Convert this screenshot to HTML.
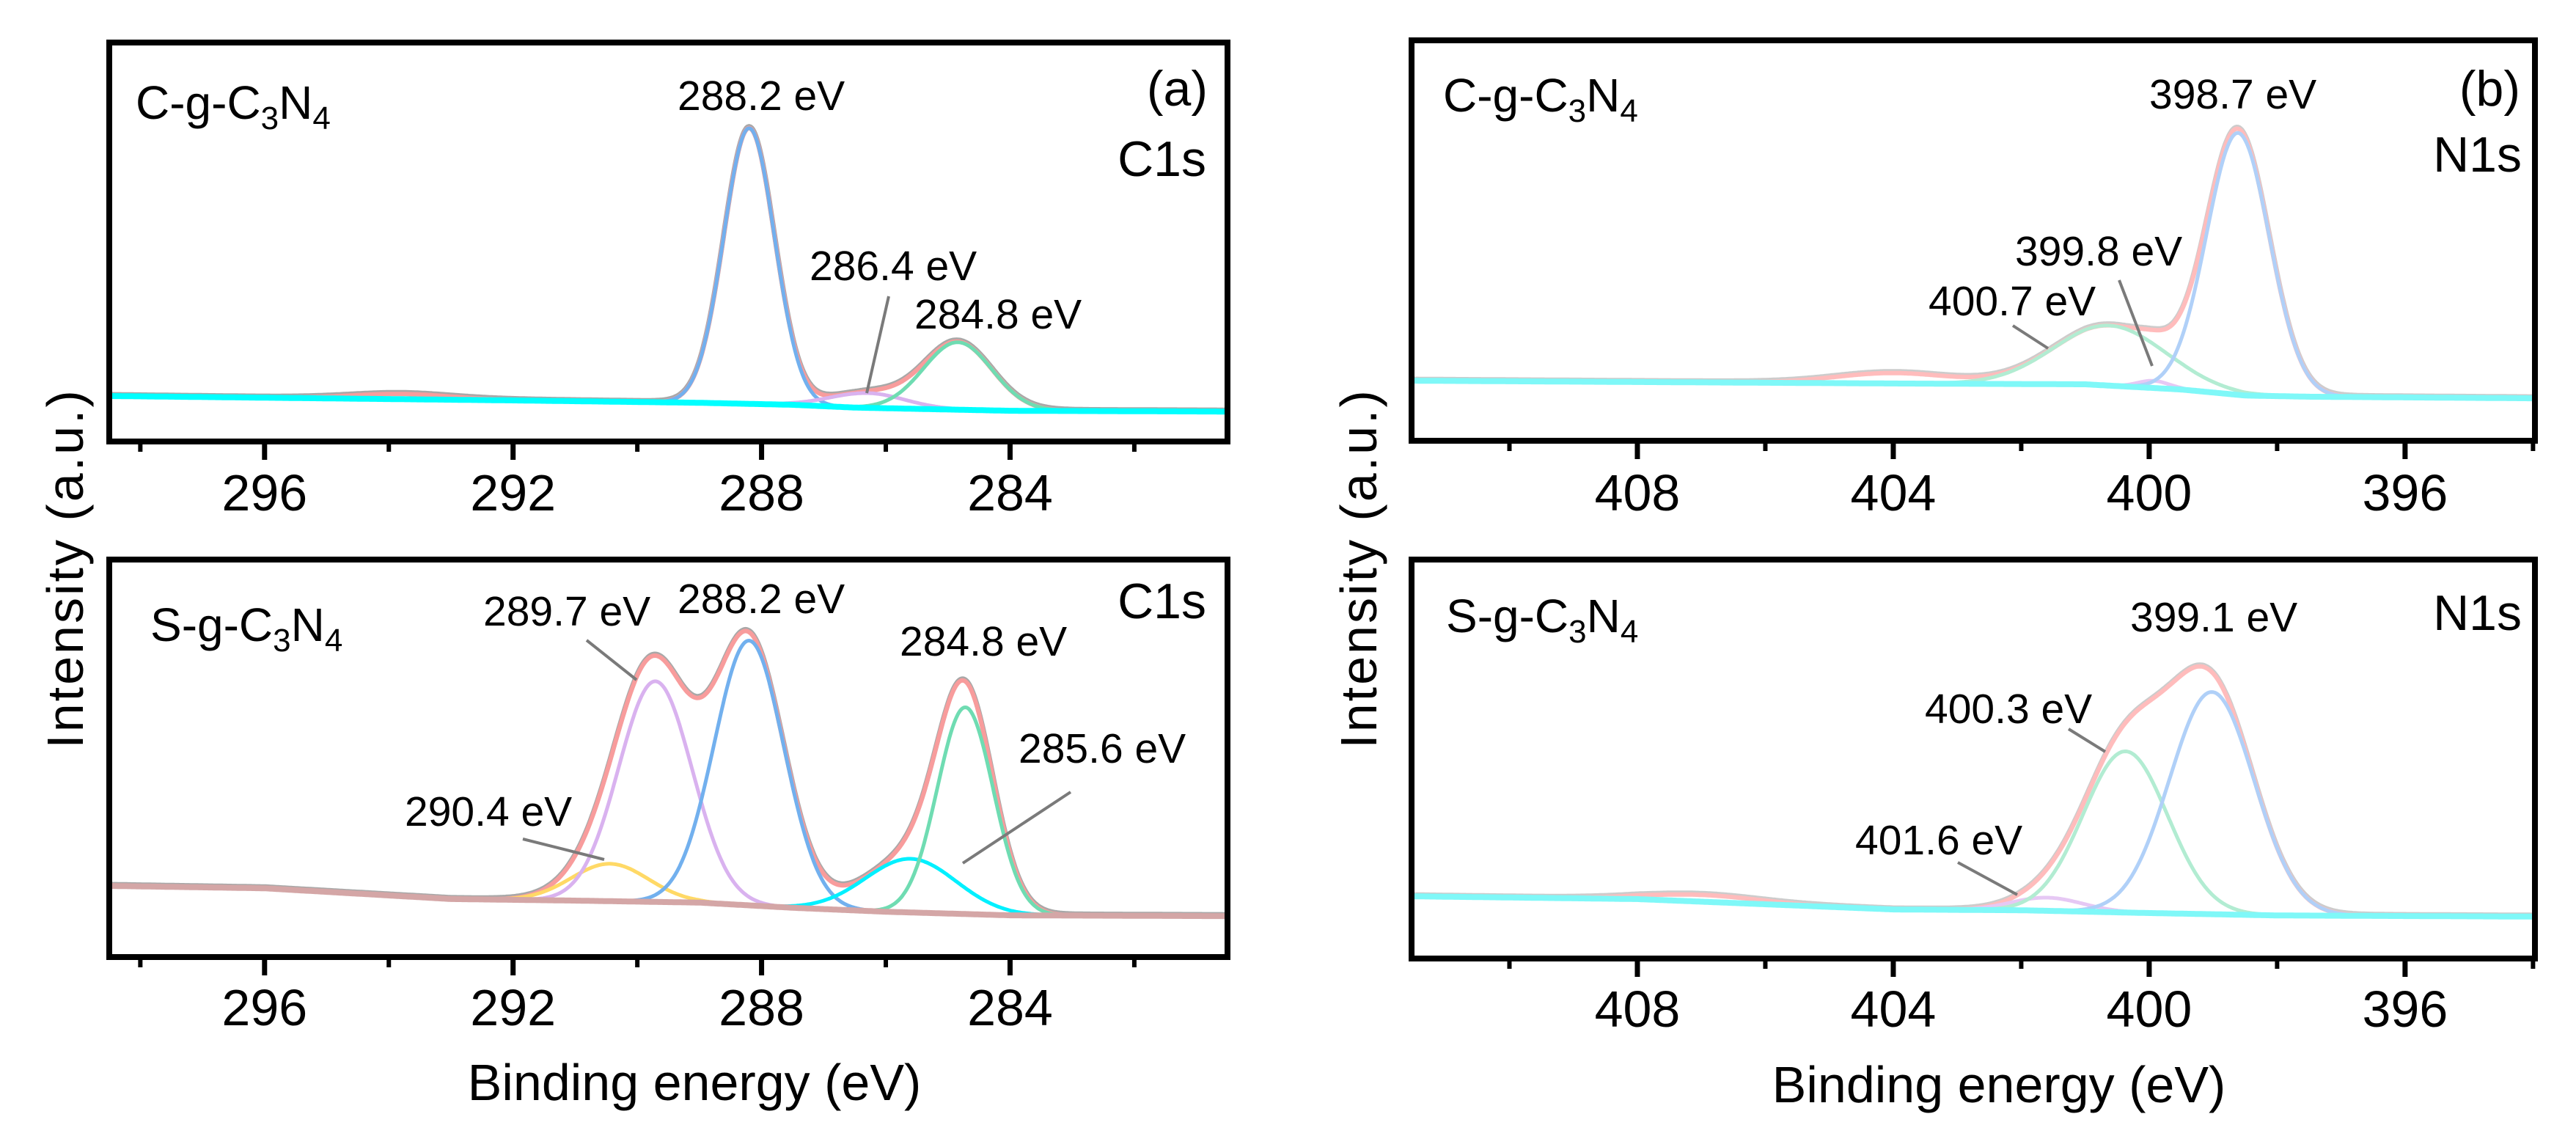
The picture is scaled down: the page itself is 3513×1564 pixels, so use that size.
<!DOCTYPE html>
<html><head><meta charset="utf-8">
<style>
html,body{margin:0;padding:0;background:#fff;}
svg{display:block;}
text{font-family:"Liberation Sans",Arial,sans-serif;fill:#000;}
</style></head>
<body>
<svg id="fig" width="3513" height="1564" viewBox="0 0 3513 1564" xmlns="http://www.w3.org/2000/svg">
<rect x="0" y="0" width="3513" height="1564" fill="#fff"/>
<g id="layer"></g>
</svg>
<script>
// ===== Panel (a) top: C-g-C3N4 C1s =====
const aTopBgE = [298.5, 292, 289, 287.5, 286.5, 284, 280.5];
const aTopBgV = [11.4, 10.3, 9.7, 9.2, 8.5, 7.7, 7.5];
const aTopCenters = [288.2, 286.3, 284.84];
const aTopHeights = [69.1, 3.7, 16.9];
const aTopSigmas = [0.41, 0.6, 0.55];
const aTopHumpC = [293.8];
const aTopHumpH = [1.3];
const aTopHumpS = [0.8];
// ===== Panel (a) bottom: S-g-C3N4 C1s =====
const aBotBgE = [298.5, 296, 294, 293, 291, 289, 287.5, 286, 284, 280.5];
const aBotBgV = [17.9, 17.3, 15.5, 14.6, 14.2, 13.7, 12.4, 11.4, 10.5, 10.3];
const aBotCenters = [290.44, 289.71, 288.2, 285.6, 284.72];
const aBotHeights = [9.4, 55.5, 66.6, 13.5, 52.0];
const aBotSigmas = [0.62, 0.59, 0.56, 0.73, 0.45];
// ===== Panel (b) top: C-g-C3N4 N1s =====
const bTopBgE = [411.53, 404, 401, 399.5, 398.5, 397.5, 393.97];
const bTopBgV = [15.0, 14.3, 14.1, 12.8, 11.3, 11.0, 10.6];
const bTopCenters = [400.62, 399.93, 398.61];
const bTopHeights = [15.0, 1.8, 65.4];
const bTopSigmas = [0.87, 0.25, 0.49];
const bTopHumpC = [404.0];
const bTopHumpH = [2.6];
const bTopHumpS = [0.9];
// ===== Panel (b) bottom: S-g-C3N4 N1s =====
const bBotBgE = [411.53, 408, 406, 404, 402, 400, 398, 393.97];
const bBotBgV = [15.6, 14.9, 13.6, 12.3, 12.1, 11.4, 10.8, 10.5];
const bBotCenters = [401.59, 400.37, 399.02];
const bBotHeights = [3.3, 40.4, 55.7];
const bBotSigmas = [0.55, 0.66, 0.66];
const bBotHumpC = [407.0];
const bBotHumpH = [1.7];
const bBotHumpS = [0.9];
// tick labels
const aTicks = [296, 292, 288, 284];
const aMinor = [298, 294, 290, 286, 282];
const bTicks = [408, 404, 400, 396];
const bMinor = [410, 406, 402, 398, 394];

const NS = "http://www.w3.org/2000/svg";
const layer = document.getElementById('layer');
function mk(tag, attrs, parent){
  const e = document.createElementNS(NS, tag);
  for (const k in attrs) e.setAttribute(k, attrs[k]);
  (parent||layer).appendChild(e);
  return e;
}
function gauss(E,c,h,s){return h*Math.exp(-0.5*((E-c)/s)**2);}
function interp(E, xs, ys){
  if (E >= xs[0]) return ys[0];
  for (let i=0;i<xs.length-1;i++){
    if (E<=xs[i] && E>=xs[i+1]){const t=(xs[i]-E)/(xs[i]-xs[i+1]);return ys[i]+(ys[i+1]-ys[i])*t;}
  }
  return ys[ys.length-1];
}
function makePanel(p){
  const g = mk('g', {});
  
  
  const X = E => p.x0 + (p.eMax - E)/(p.eMax - p.eMin)*(p.x1 - p.x0);
  const Y = v => p.y1 - v/100*(p.y1 - p.y0);
  const bg = E => interp(E, p.bgE, p.bgV);
  const N = 900;
  const Es = [];
  for (let i=0;i<=N;i++) Es.push(p.eMax - (p.eMax-p.eMin)*i/N);
  const clipId = 'clip-'+p.name;
  const cp = mk('clipPath', {id:clipId}, g);
  mk('rect', {x:p.x0, y:p.y0, width:p.x1-p.x0, height:p.y1-p.y0}, cp);
  const plot = mk('g', {'clip-path':'url(#'+clipId+')'}, g);
  function pathFor(fn){
    return Es.map((E,i)=>(i?'L':'M')+X(E).toFixed(1)+' '+Y(fn(E)).toFixed(1)).join(' ');
  }
  const env = E => {
    let v = bg(E);
    for (let k=0;k<p.c.length;k++) v += gauss(E,p.c[k],p.h[k],p.s[k]);
    for (let k=0;k<p.hc.length;k++) v += gauss(E,p.hc[k],p.hh[k],p.hs[k]);
    return v;
  };
  const raw = mk('path', {d:pathFor(env), fill:'none', stroke:p.rawColor, 'stroke-width':7, transform:'translate(0,-2)'}, plot);
  
  
  const envp = mk('path', {d:pathFor(env), fill:'none', stroke:p.envColor, 'stroke-width':6}, plot);
  
  
  function drawBg(){
    const b = mk('path', {d:pathFor(bg), fill:'none', stroke:p.bgColor, 'stroke-width':p.bgWidth}, plot);
    
    
  }
  for (let k=0;k<p.c.length;k++){
    const pk = mk('path', {d:pathFor(E=>bg(E)+gauss(E,p.c[k],p.h[k],p.s[k])), fill:'none', stroke:p.colors[k], 'stroke-width':5}, plot);
    
    
  }
  drawBg();
  const fr = mk('rect', {x:p.x0, y:p.y0, width:p.x1-p.x0, height:p.y1-p.y0, fill:'none', stroke:'#000', 'stroke-width':8}, g);
  
  
  for (const t of p.ticks){
    const tl = mk('line', {x1:X(t), x2:X(t), y1:p.y1, y2:p.y1+25, stroke:'#000', 'stroke-width':7}, g);
    
    
    const tx = mk('text', {x:X(t), y:p.tickY, 'font-size':70, 'text-anchor':'middle'}, g);
    tx.textContent = t;
    
    
  }
  for (const t of p.minor){
    const tl = mk('line', {x1:X(t), x2:X(t), y1:p.y1, y2:p.y1+14, stroke:'#000', 'stroke-width':6}, g);
    
    
  }
}
const pa = {eMax:298.5, eMin:280.5, x0:149, x1:1674, ticks:aTicks, minor:aMinor};
const pb = {eMax:411.53, eMin:393.97, x0:1925, x1:3457, ticks:bTicks, minor:bMinor};
makePanel(Object.assign({}, pa, {name:'panel-a-top', y0:58, y1:602, tickY:696,
  bgE:aTopBgE, bgV:aTopBgV, c:aTopCenters, h:aTopHeights, s:aTopSigmas, hc:aTopHumpC, hh:aTopHumpH, hs:aTopHumpS,
  colors:['#72b0ee','#d9b2ef','#6fdcb2'], envColor:'#f89c9c', rawColor:'#a8a8a8', bgColor:'#00ffff', bgWidth:8}));
makePanel(Object.assign({}, pa, {name:'panel-a-bottom', y0:763, y1:1305, tickY:1398,
  bgE:aBotBgE, bgV:aBotBgV, c:aBotCenters, h:aBotHeights, s:aBotSigmas, hc:[], hh:[], hs:[],
  colors:['#ffd966','#d9b2ef','#72b0ee','#00f0ff','#6fdcb2'], envColor:'#f89c9c', rawColor:'#a8a8a8', bgColor:'#d4a6a6', bgWidth:8}));
makePanel(Object.assign({}, pb, {name:'panel-b-top', y0:55, y1:601, tickY:696,
  bgE:bTopBgE, bgV:bTopBgV, c:bTopCenters, h:bTopHeights, s:bTopSigmas, hc:bTopHumpC, hh:bTopHumpH, hs:bTopHumpS,
  colors:['#b2ecd2','#e6c8f4','#b0d0f8'], envColor:'#ffbcbc', rawColor:'#cccccc', bgColor:'#7ff8f8', bgWidth:8}));
makePanel(Object.assign({}, pb, {name:'panel-b-bottom', y0:763, y1:1307, tickY:1400,
  bgE:bBotBgE, bgV:bBotBgV, c:bBotCenters, h:bBotHeights, s:bBotSigmas, hc:bBotHumpC, hh:bBotHumpH, hs:bBotHumpS,
  colors:['#e6c8f4','#b2ecd2','#b0d0f8'], envColor:'#ffbcbc', rawColor:'#cccccc', bgColor:'#7ff8f8', bgWidth:8}));
</script>
<svg style="position:absolute;left:0;top:0" width="3513" height="1564" viewBox="0 0 3513 1564" xmlns="http://www.w3.org/2000/svg">
<g stroke="#7a7a7a" stroke-width="4">
<line x1="1212" y1="404" x2="1182" y2="536"/>
<line x1="800" y1="873" x2="868" y2="927"/>
<line x1="713" y1="1144" x2="824" y2="1172"/>
<line x1="1460" y1="1080" x2="1313" y2="1177"/>
<line x1="2890" y1="382" x2="2935" y2="499"/>
<line x1="2745" y1="444" x2="2793" y2="475"/>
<line x1="2821" y1="994" x2="2871" y2="1025"/>
<line x1="2670" y1="1176" x2="2751" y2="1220"/>
</g>
<g font-family="Liberation Sans, Arial, sans-serif" fill="#000">
<text x="185" y="162" font-size="64">C-g-C<tspan font-size="44" dy="14">3</tspan><tspan dy="-14">N</tspan><tspan font-size="44" dy="14">4</tspan></text>
<text x="205" y="874" font-size="64">S-g-C<tspan font-size="44" dy="14">3</tspan><tspan dy="-14">N</tspan><tspan font-size="44" dy="14">4</tspan></text>
<text x="1968" y="152" font-size="64">C-g-C<tspan font-size="44" dy="14">3</tspan><tspan dy="-14">N</tspan><tspan font-size="44" dy="14">4</tspan></text>
<text x="1972" y="862" font-size="64">S-g-C<tspan font-size="44" dy="14">3</tspan><tspan dy="-14">N</tspan><tspan font-size="44" dy="14">4</tspan></text>
<text x="1647" y="144" font-size="68" text-anchor="end">(a)</text>
<text x="3437" y="144" font-size="68" text-anchor="end">(b)</text>
<text x="1645" y="240" font-size="68" text-anchor="end">C1s</text>
<text x="1645" y="843" font-size="68" text-anchor="end">C1s</text>
<text x="3439" y="234" font-size="68" text-anchor="end">N1s</text>
<text x="3439" y="859" font-size="68" text-anchor="end">N1s</text>
<g font-size="57">
<text x="924" y="150">288.2 eV</text>
<text x="1104" y="382">286.4 eV</text>
<text x="1247" y="448">284.8 eV</text>
<text x="659" y="853">289.7 eV</text>
<text x="924" y="836">288.2 eV</text>
<text x="1227" y="894">284.8 eV</text>
<text x="1389" y="1040">285.6 eV</text>
<text x="552" y="1126">290.4 eV</text>
<text x="2931" y="148">398.7 eV</text>
<text x="2748" y="362">399.8 eV</text>
<text x="2630" y="430">400.7 eV</text>
<text x="2905" y="861">399.1 eV</text>
<text x="2625" y="986">400.3 eV</text>
<text x="2530" y="1165">401.6 eV</text>
</g>
<text x="947" y="1500" font-size="70" text-anchor="middle">Binding energy (eV)</text>
<text x="2726" y="1503" font-size="70" text-anchor="middle">Binding energy (eV)</text>
<text transform="translate(113,775) rotate(-90)" font-size="70" letter-spacing="3" text-anchor="middle">Intensity (a.u.)</text>
<text transform="translate(1877,775) rotate(-90)" font-size="70" letter-spacing="3" text-anchor="middle">Intensity (a.u.)</text>
</g>
</svg>
</body></html>
